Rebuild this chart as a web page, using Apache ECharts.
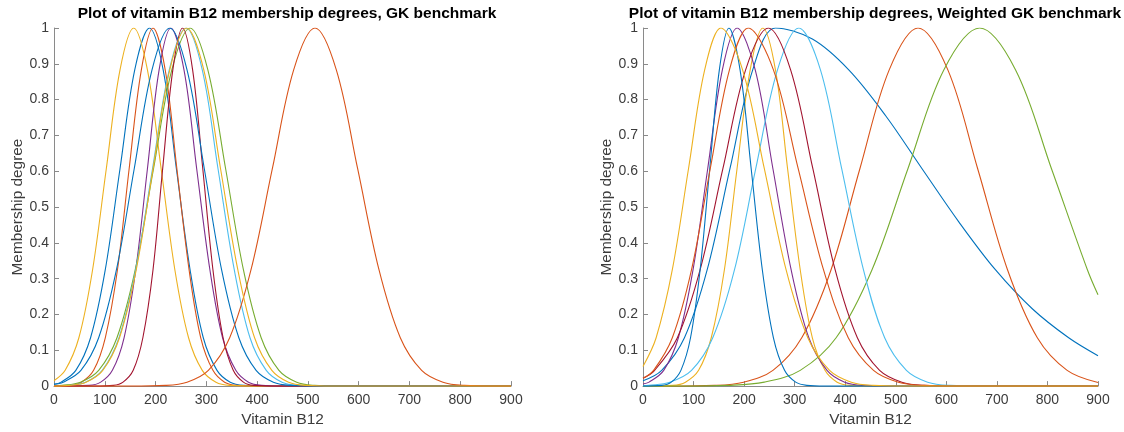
<!DOCTYPE html>
<html>
<head>
<meta charset="utf-8">
<script src="https://cdn.jsdelivr.net/npm/echarts@6/dist/echarts.min.js"></script>
<style>
html,body{margin:0;padding:0;background:#fff;}
#chart{width:1124px;height:432px;}
</style>
</head>
<body>
<div id="chart"></div>
<script>
// ---- Data: [Vitamin B12, membership degree] ----
// Left panel: GK benchmark
const gkBlueA   = [[0,0.005],[14,0.011],[43,0.044],[72,0.135],[101,0.325],[130,0.607],[159,0.883],[188,1],[215,0.883],[241,0.607],[268,0.325],[294,0.135],[321,0.044],[347,0.011],[374,0.002],[420,0],[900,0]];
const gkOrangeA = [[0,0],[31,0.002],[54,0.011],[78,0.044],[101,0.135],[125,0.325],[148,0.607],[172,0.883],[195,1],[219,0.883],[242,0.607],[266,0.325],[289,0.135],[313,0.044],[336,0.011],[360,0.002],[400,0],[900,0]];
const gkYellowA = [[0,0.015],[22,0.044],[49,0.135],[76,0.325],[103,0.607],[130,0.883],[157,1],[184,0.883],[211,0.607],[238,0.325],[265,0.135],[292,0.044],[319,0.011],[346,0.002],[400,0],[900,0]];
const gkPurple  = [[0,0],[69,0.002],[92,0.011],[115,0.044],[138,0.135],[161,0.325],[184,0.607],[207,0.883],[230,1],[256,0.883],[281,0.607],[307,0.325],[332,0.135],[358,0.044],[383,0.011],[409,0.002],[450,0],[900,0]];
const gkGreen   = [[0,0.001],[16,0.002],[52,0.011],[88,0.044],[124,0.135],[160,0.325],[196,0.607],[232,0.883],[268,1],[303,0.883],[338,0.607],[373,0.325],[408,0.135],[443,0.044],[478,0.011],[513,0.002],[560,0],[900,0]];
const gkCyan    = [[0,0],[29,0.002],[62,0.011],[95,0.044],[128,0.135],[161,0.325],[194,0.607],[227,0.883],[260,1],[292,0.883],[323,0.607],[355,0.325],[386,0.135],[418,0.044],[449,0.011],[481,0.002],[530,0],[900,0]];
const gkDarkRed = [[0,0],[80,0],[117,0.002],[136,0.011],[156,0.044],[175,0.135],[195,0.325],[214,0.607],[234,0.883],[253,1],[273,0.883],[293,0.607],[313,0.325],[333,0.135],[353,0.044],[373,0.011],[393,0.002],[440,0],[900,0]];
const gkBlueB   = [[0,0.005],[18,0.011],[53,0.044],[88,0.135],[123,0.325],[158,0.607],[193,0.883],[228,1],[262,0.883],[296,0.607],[330,0.325],[364,0.135],[398,0.044],[432,0.011],[466,0.002],[520,0],[900,0]];
const gkOrangeB = [[0,0],[150,0],[220,0.002],[262,0.011],[304,0.044],[346,0.135],[388,0.325],[430,0.607],[472,0.883],[514,1],[556,0.883],[598,0.607],[640,0.325],[682,0.135],[724,0.044],[766,0.011],[808,0.002],[870,0],[900,0]];
const gkYellowB = [[0,0],[30,0.002],[63,0.011],[96,0.044],[129,0.135],[162,0.325],[195,0.607],[228,0.883],[261,1],[295,0.883],[328,0.607],[362,0.325],[395,0.135],[429,0.044],[462,0.011],[496,0.002],[550,0],[900,0]];

// Right panel: Weighted GK benchmark
const wgkBlueA   = [[0,0.015],[37,0.044],[82,0.135],[127,0.325],[172,0.607],[217,0.883],[262,1],[335,0.969],[407,0.883],[480,0.755],[552,0.607],[625,0.458],[697,0.325],[770,0.216],[842,0.135],[900,0.085]];
const wgkOrangeA = [[0,0],[50,0],[142,0.002],[199,0.011],[257,0.044],[314,0.135],[372,0.325],[429,0.607],[487,0.883],[544,1],[603,0.883],[662,0.607],[721,0.325],[780,0.135],[839,0.044],[900,0.010]];
const wgkYellowA = [[0,0],[59,0.002],[84,0.011],[110,0.044],[135,0.135],[161,0.325],[186,0.607],[212,0.883],[237,1],[262,0.883],[286,0.607],[311,0.325],[335,0.135],[360,0.044],[384,0.011],[409,0.002],[450,0],[900,0]];
const wgkPurple  = [[0,0.006],[12,0.011],[41,0.044],[70,0.135],[99,0.325],[128,0.607],[157,0.883],[186,1],[222,0.883],[257,0.607],[293,0.325],[328,0.135],[364,0.044],[399,0.011],[435,0.002],[500,0],[900,0]];
const wgkGreen   = [[0,0],[80,0],[169,0.002],[240,0.011],[311,0.044],[382,0.135],[453,0.325],[524,0.607],[595,0.883],[666,1],[737,0.883],[808,0.607],[879,0.325],[900,0.255]];
const wgkCyan    = [[0,0.001],[11,0.002],[53,0.011],[96,0.044],[138,0.135],[181,0.325],[223,0.607],[266,0.883],[308,1],[351,0.883],[393,0.607],[436,0.325],[478,0.135],[521,0.044],[563,0.011],[606,0.002],[680,0],[900,0]];
const wgkDarkRed = [[0,0.022],[23,0.044],[68,0.135],[113,0.325],[158,0.607],[203,0.883],[248,1],[292,0.883],[336,0.607],[380,0.325],[424,0.135],[468,0.044],[512,0.011],[556,0.002],[620,0],[900,0]];
const wgkBlueB   = [[0,0],[37,0.002],[56,0.011],[75,0.044],[94,0.135],[113,0.325],[132,0.607],[151,0.883],[170,1],[192,0.883],[214,0.607],[236,0.325],[258,0.135],[280,0.044],[302,0.011],[324,0.002],[360,0],[900,0]];
const wgkOrangeB = [[0,0.022],[21,0.044],[58,0.135],[96,0.325],[133,0.607],[171,0.883],[208,1],[258,0.883],[307,0.607],[357,0.325],[406,0.135],[456,0.044],[505,0.011],[555,0.002],[620,0],[900,0]];
const wgkYellowB = [[0,0.055],[26,0.135],[58,0.325],[90,0.607],[122,0.883],[154,1],[197,0.883],[240,0.607],[283,0.325],[326,0.135],[369,0.044],[412,0.011],[455,0.002],[520,0],[900,0]];

const xTicks = [0,100,200,300,400,500,600,700,800,900];
const yTicks = [0,0.1,0.2,0.3,0.4,0.5,0.6,0.7,0.8,0.9,1];
const titles = ['Plot of vitamin B12 membership degrees, GK benchmark',
                'Plot of vitamin B12 membership degrees, Weighted GK benchmark'];
const xLabel = 'Vitamin B12';
const yLabel = 'Membership degree';

const palette = ['#0072BD','#D95319','#EDB120','#7E2F8E','#77AC30','#4DBEEE','#A2142F'];
const leftSeries  = [gkBlueA, gkOrangeA, gkYellowA, gkPurple, gkGreen, gkCyan, gkDarkRed, gkBlueB, gkOrangeB, gkYellowB];
const rightSeries = [wgkBlueA, wgkOrangeA, wgkYellowA, wgkPurple, wgkGreen, wgkCyan, wgkDarkRed, wgkBlueB, wgkOrangeB, wgkYellowB];

const FONT = 'Liberation Sans, Arial, Helvetica, sans-serif';
const axisGray = '#8a8a8a';
const textGray = '#3c3c3c';

function xAxisCfg(gi){
  return {
    type:'value', gridIndex:gi, min:0, max:900, interval:100,
    name:xLabel, nameLocation:'middle', nameGap:24,
    nameTextStyle:{fontFamily:FONT, fontSize:15.4, color:textGray},
    axisLine:{show:true, lineStyle:{color:axisGray, width:1}},
    axisTick:{show:true, inside:true, length:5, lineStyle:{color:axisGray}},
    axisLabel:{fontFamily:FONT, fontSize:14, color:textGray, margin:7,
      formatter:(v)=> xTicks.includes(v) ? String(v) : ''},
    splitLine:{show:false}
  };
}
function yAxisCfg(gi){
  return {
    type:'value', gridIndex:gi, min:0, max:1, interval:0.1,
    name:yLabel, nameLocation:'middle', nameGap:29,
    nameTextStyle:{fontFamily:FONT, fontSize:15.4, color:textGray},
    axisLine:{show:true, lineStyle:{color:axisGray, width:1}},
    axisTick:{show:true, inside:true, length:5, lineStyle:{color:axisGray}},
    axisLabel:{fontFamily:FONT, fontSize:14, color:textGray, margin:5,
      formatter:(v)=>{ const t = yTicks.find(k=>Math.abs(k-v)<1e-9); return t===undefined?'':String(t); }},
    splitLine:{show:false}
  };
}

const series = [];
leftSeries.forEach((d,i)=>series.push({type:'line', xAxisIndex:0, yAxisIndex:0, data:d, smooth:0.35, showSymbol:false, symbol:'none',
  lineStyle:{width:1.1, color:palette[i%7]}, clip:true}));
rightSeries.forEach((d,i)=>series.push({type:'line', xAxisIndex:1, yAxisIndex:1, data:d, smooth:0.35, showSymbol:false, symbol:'none',
  lineStyle:{width:1.1, color:palette[i%7]}, clip:true}));

const chart = echarts.init(document.getElementById('chart'), null, {renderer:'canvas'});
chart.setOption({
  animation:false,
  backgroundColor:'#fff',
  title:[
    {text:titles[0], left:282, top:1, textAlign:'center', textStyle:{fontFamily:FONT, fontSize:15.5, fontWeight:'bold', color:'#000'}},
    {text:titles[1], left:870, top:1, textAlign:'center', textStyle:{fontFamily:FONT, fontSize:15.5, fontWeight:'bold', color:'#000'}}
  ],
  grid:[
    {left:54, right:613, top:28, bottom:45, containLabel:false},
    {left:643, right:26, top:28, bottom:45, containLabel:false}
  ],
  xAxis:[xAxisCfg(0), xAxisCfg(1)],
  yAxis:[yAxisCfg(0), yAxisCfg(1)],
  series:series
});
</script>
</body>
</html>
